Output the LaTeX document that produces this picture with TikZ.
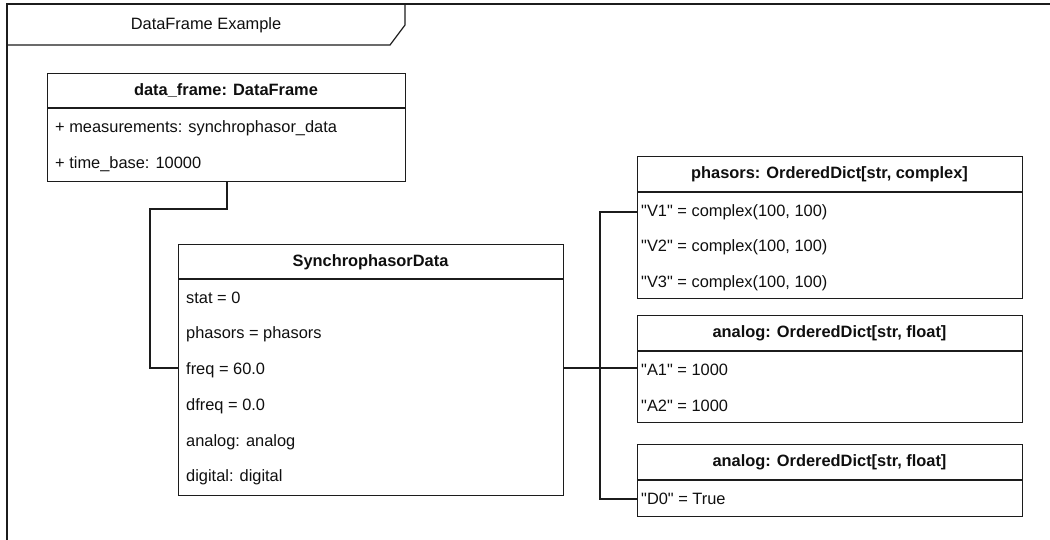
\documentclass[tikz,border=0pt]{standalone}
\usepackage{fontspec}
\setmainfont{Liberation Sans}[Ligatures=TeXOff]
\definecolor{lc}{RGB}{28,28,28}
\definecolor{tc}{RGB}{15,15,15}
\tikzset{
  ln/.style={draw=lc, line width=1.2pt},
  umlbox/.style={ln, rectangle, anchor=north west, inner sep=0pt},
  headtext/.style={font=\bfseries\fontsize{16.4}{19}\selectfont, text=tc, inner sep=0pt},
  rowtext/.style={anchor=west, font=\fontsize{16.4}{19}\selectfont, text=tc, inner sep=0pt},
  wire/.style={ln, line join=miter},
}
\begin{document}
\begin{tikzpicture}[x=1pt,y=-1pt]
\useasboundingbox (0,0) rectangle (1050,539);

% outer frame with title tab
\draw[ln] (1060,4) -- (7,4) -- (7,550);
\draw[ln] (7,45) -- (390,45) -- (405,25) -- (405,4);
\node[rowtext, anchor=center] (title) at (206,25) {DataFrame Example};

% data_frame
\node[umlbox, minimum width=358pt, minimum height=108pt] (df) at (47,73) {};
\draw[ln] (47,108) -- (405,108);
\node[headtext] (dfh) at (226,91) {data\_frame: DataFrame};
\node[rowtext] (df1) at (55,128) {+ measurements: synchrophasor\_data};
\node[rowtext] (df2) at (55,164) {+ time\_base: 10000};

% SynchrophasorData
\node[umlbox, minimum width=385pt, minimum height=251pt] (sd) at (178,244) {};
\draw[ln] (178,279) -- (563,279);
\node[headtext] (sdh) at (370.5,262) {SynchrophasorData};
\node[rowtext] (sd1) at (186,298) {stat = 0};
\node[rowtext] (sd2) at (186,334) {phasors = phasors};
\node[rowtext] (sd3) at (186,370) {freq = 60.0};
\node[rowtext] (sd4) at (186,406) {dfreq = 0.0};
\node[rowtext] (sd5) at (186,442) {analog: analog};
\node[rowtext] (sd6) at (186,477) {digital: digital};

% phasors
\node[umlbox, minimum width=385pt, minimum height=142pt] (ph) at (637,156) {};
\draw[ln] (637,192) -- (1022,192);
\node[headtext] (phh) at (829.5,174) {phasors: OrderedDict[str, complex]};
\node[rowtext] (ph1) at (641,212) {"V1" = complex(100, 100)};
\node[rowtext] (ph2) at (641,247) {"V2" = complex(100, 100)};
\node[rowtext] (ph3) at (641,283) {"V3" = complex(100, 100)};

% analog
\node[umlbox, minimum width=385pt, minimum height=107pt] (an) at (637,315) {};
\draw[ln] (637,351) -- (1022,351);
\node[headtext] (anh) at (829.5,333) {analog: OrderedDict[str, float]};
\node[rowtext] (an1) at (641,370) {"A1" = 1000};
\node[rowtext] (an2) at (641,406) {"A2" = 1000};

% digital
\node[umlbox, minimum width=385pt, minimum height=72pt] (dg) at (637,444) {};
\draw[ln] (637,480) -- (1022,480);
\node[headtext] (dgh) at (829.5,462) {analog: OrderedDict[str, float]};
\node[rowtext] (dg1) at (641,499) {"D0" = True};

% connectors
\coordinate (j1) at (227,209);
\coordinate (j2) at (150,368);
\coordinate (bus) at (600,368);
\draw[wire] (df.south -| j1) -- (j1) -- (j1 -| j2) -- (j2) -- (j2 -| sd.west);
\draw[wire] (sd.east |- bus) -- (an.west |- bus);
\draw[wire] (bus) -- (bus |- ph1) -- (ph.west |- ph1);
\draw[wire] (bus) -- (bus |- dg1) -- (dg.west |- dg1);
\end{tikzpicture}
\end{document}
